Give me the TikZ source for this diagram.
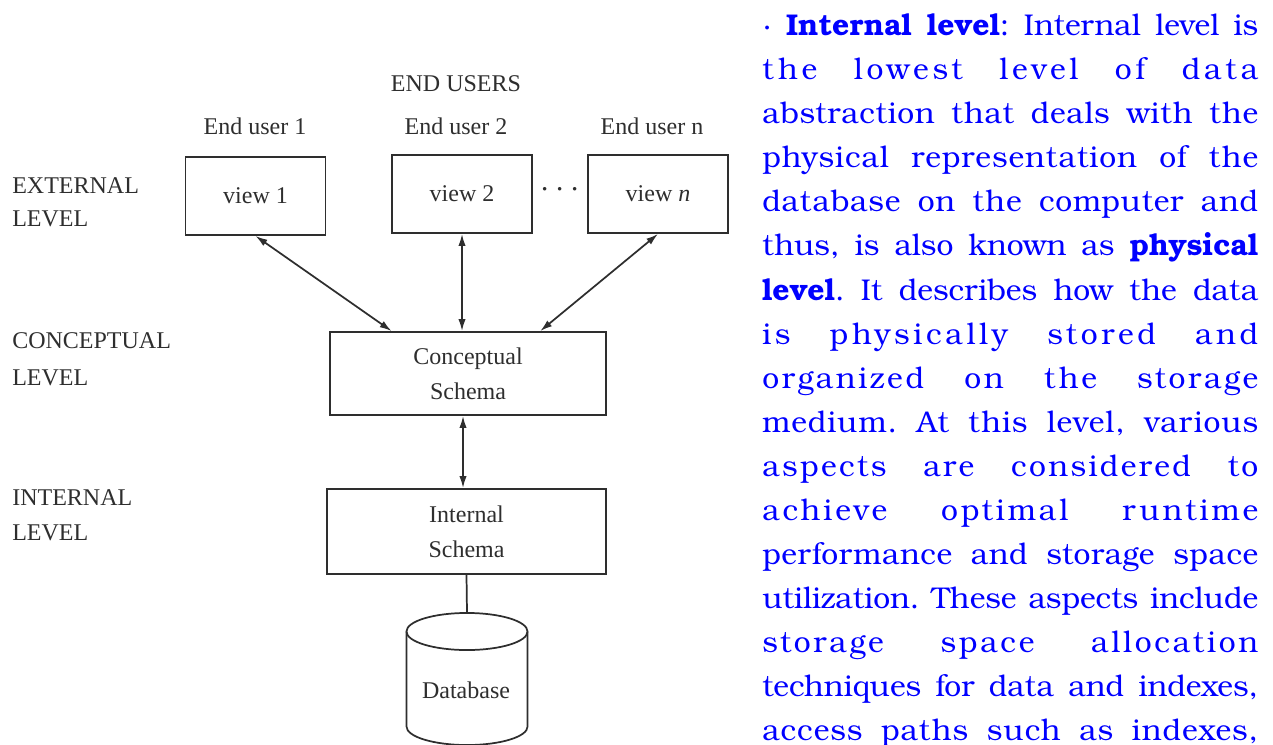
\documentclass[tikz,border=0pt]{standalone}
\usepackage{fontspec}
\setmainfont{Liberation Serif}
\newfontfamily\bookfont{texgyrebonum}[Extension=.otf, UprightFont=*-regular, BoldFont=*-bold, ItalicFont=*-italic, BoldItalicFont=*-bolditalic]
\usetikzlibrary{arrows.meta,calc}
\definecolor{ink}{HTML}{2E2E2E}
\definecolor{textblue}{RGB}{0,0,255}
% one justified line of the paragraph: #1 = letter spacing, #2 = words
\newcommand\pline[2]{\makebox[372pt][s]{\addfontfeature{LetterSpace=#1}#2}}

\begin{document}
\begin{tikzpicture}[x=0.75pt,y=-0.75pt,
  lbl/.style={text=ink, font=\fontsize{18}{25}\selectfont, inner sep=0pt},
  lvl/.style={lbl, anchor=west, align=left},
  schemabox/.style={draw=ink, line width=1.4pt, rectangle, inner sep=0pt, text=ink,
    font=\fontsize{18}{26}\selectfont, align=center},
  viewbox/.style={schemabox, minimum width=105pt, minimum height=58.5pt},
  link/.style={draw=ink, line width=1.3pt},
  biarrow/.style={link, {Latex[length=9pt,width=5.5pt]}-{Latex[length=9pt,width=5.5pt]}},
  para/.style={anchor=base west, inner sep=0pt, text=textblue,
    font=\bookfont\fontsize{22.5}{27}\selectfont\frenchspacing}
]
\useasboundingbox (0,0) rectangle (1273,745);

% level captions on the left
\node[lvl] (extlbl) at (12,202) {EXTERNAL\\LEVEL};
\node[lvl, font=\fontsize{18}{28}\selectfont] (conlbl) at (12,359) {CONCEPTUAL\\LEVEL};
\node[lvl, font=\fontsize{18}{26}\selectfont] (intlbl) at (12,515.5) {INTERNAL\\LEVEL};

% end users and their views
\node[lbl] (users) at (456,84) {END USERS};
\node[lbl] (u1) at (255,126) {End user 1};
\node[lbl] (u2) at (456,126) {End user 2};
\node[lbl] (un) at (652,126) {End user n};

\node[viewbox] (v1) at (255.5,196) {view 1};
\node[viewbox] (v2) at (462,194) {view 2};
\node[viewbox] (vn) at (658,194) {view \textit{n}};
\node[lbl, font=\fontsize{24}{26}\selectfont] (dots) at (560,190) {$\cdots$};

% schemas
\node[schemabox, minimum width=207pt, minimum height=62.25pt] (cs) at (468,373.5) {Conceptual\\Schema};
\node[schemabox, minimum width=209.25pt, minimum height=63.75pt] (is) at (466.5,531.5) {Internal\\Schema};

% database cylinder
\coordinate (dbtop) at (467,613);
\draw[link] (467,631.5) ellipse [x radius=45.4pt, y radius=13.9pt];
\draw[link] (406.5,631.5) -- (406.5,726.5)
  arc [start angle=180, end angle=360, x radius=45.4pt, y radius=13.9pt]
  -- (527.5,631.5);
\node[lbl] (db) at (466,690) {Database};

% connectors
\draw[biarrow] (v1.south) -- ($(cs.north west)!0.225!(cs.north east)$);
\draw[biarrow] (v2.south) -- (v2.south |- cs.north);
\draw[biarrow] (vn.south) -- ($(cs.north west)!0.76!(cs.north east)$);
\draw[biarrow] ($(cs.south)+(-5,0)$) -- ($(cs.south |- is.north)+(-5,0)$);
\draw[link] (is.south) -- (dbtop);

% explanatory paragraph
\node[para] (p1) at (762,36) {\pline{0}{·\ \textbf{Internal level}: Internal level is}};
\node[para] (p2) at (762,80) {\pline{12.5}{the lowest level of data}};
\node[para] (p3) at (762,124) {\pline{2.3}{abstraction that deals with the}};
\node[para] (p4) at (762,168) {\pline{3.2}{physical representation of the}};
\node[para] (p5) at (762,212) {\pline{2.7}{database on the computer and}};
\node[para] (p6) at (762,256) {\pline{0}{thus, is also known as \textbf{physical}}};
\node[para] (p7) at (762,300) {\pline{0}{\textbf{level}. It describes how the data}};
\node[para] (p8) at (762,344) {\pline{12.3}{is physically stored and}};
\node[para] (p9) at (762,388) {\pline{9}{organized on the storage}};
\node[para] (p10) at (762,432) {\pline{3}{medium. At this level, various}};
\node[para] (p11) at (762,476) {\pline{8}{aspects are considered to}};
\node[para] (p12) at (762,520) {\pline{9.7}{achieve optimal runtime}};
\node[para] (p13) at (762,564) {\pline{1.8}{performance and storage space}};
\node[para] (p14) at (762,608) {\pline{0}{utilization. These aspects include}};
\node[para] (p15) at (762,652) {\pline{9.2}{storage space allocation}};
\node[para] (p16) at (762,696) {\pline{0}{techniques for data and indexes,}};
\node[para] (p17) at (762,740) {\pline{3.2}{access paths such as indexes,}};
\end{tikzpicture}
\end{document}
